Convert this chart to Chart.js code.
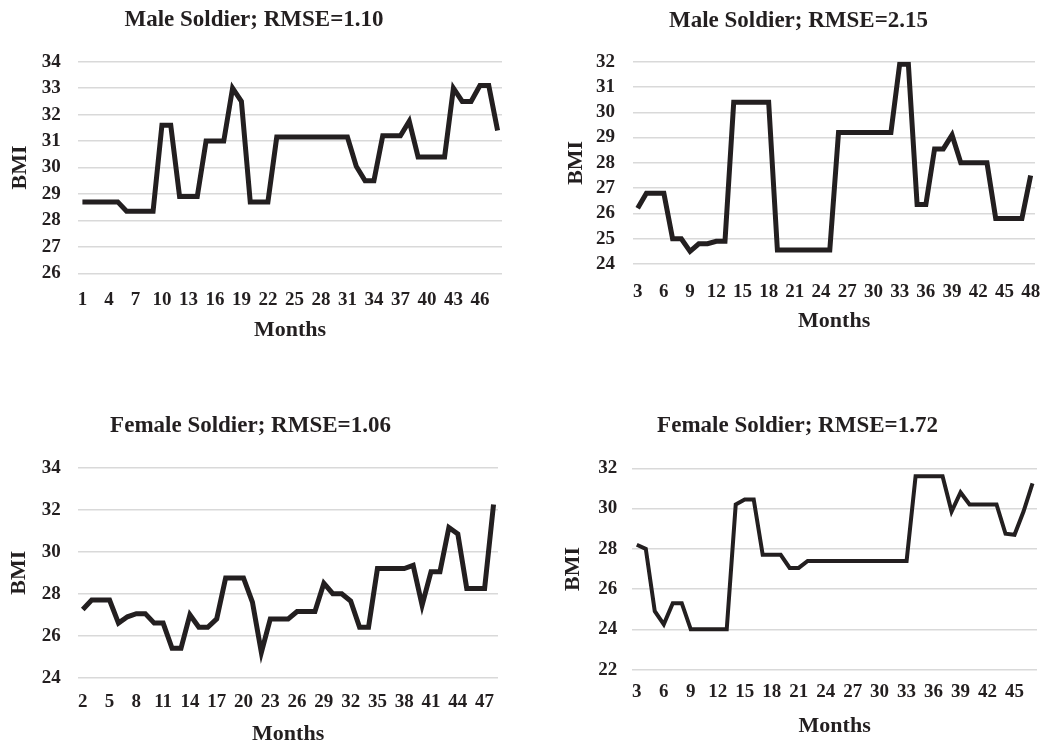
<!DOCTYPE html>
<html lang="en">
<head>
<meta charset="UTF-8">
<title>BMI by month - soldiers</title>
<script src="https://cdn.jsdelivr.net/npm/chart.js"></script>
<style>
    html, body {
        margin: 0;
        padding: 0;
        background: #ffffff;
        overflow: hidden;
    }
    body {
        position: relative;
        width: 1046px;
        height: 744px;
    }
    .panel {
        position: absolute;
    }
</style>
</head>
<body>
<div class="panel" style="left:6px; top:0px; width:506px; height:344px;"><canvas id="c1"></canvas></div>
<div class="panel" style="left:562px; top:0px; width:483px; height:335px;"><canvas id="c2"></canvas></div>
<div class="panel" style="left:3px; top:400px; width:505px; height:348px;"><canvas id="c3"></canvas></div>
<div class="panel" style="left:558px; top:400px; width:488px; height:340px;"><canvas id="c4"></canvas></div>

<script>
    // Male soldier, RMSE=1.10
    const months1 = [1, 2, 3, 4, 5, 6, 7, 8, 9, 10, 11, 12, 13, 14, 15, 16, 17, 18, 19, 20, 21, 22, 23, 24,
        25, 26, 27, 28, 29, 30, 31, 32, 33, 34, 35, 36, 37, 38, 39, 40, 41, 42, 43, 44, 45, 46, 47, 48];
    const bmi1 = [28.7, 28.7, 28.7, 28.7, 28.7, 28.35, 28.35, 28.35, 28.35, 31.6, 31.6, 28.9, 28.9, 28.9,
        31.0, 31.0, 31.0, 33.0, 32.5, 28.7, 28.7, 28.7, 31.15, 31.15, 31.15, 31.15, 31.15, 31.15, 31.15,
        31.15, 31.15, 30.05, 29.5, 29.5, 31.2, 31.2, 31.2, 31.75, 30.4, 30.4, 30.4, 30.4, 33.0, 32.5, 32.5,
        33.1, 33.1, 31.4];
    const xTicks1 = [1, 4, 7, 10, 13, 16, 19, 22, 25, 28, 31, 34, 37, 40, 43, 46];
    const yRange1 = [26, 34, 1];

    // Male soldier, RMSE=2.15
    const months2 = [3, 4, 5, 6, 7, 8, 9, 10, 11, 12, 13, 14, 15, 16, 17, 18, 19, 20, 21, 22, 23, 24, 25,
        26, 27, 28, 29, 30, 31, 32, 33, 34, 35, 36, 37, 38, 39, 40, 41, 42, 43, 44, 45, 46, 47, 48];
    const bmi2 = [26.2, 26.8, 26.8, 26.8, 25.0, 25.0, 24.5, 24.8, 24.8, 24.9, 24.9, 30.4, 30.4, 30.4, 30.4,
        30.4, 24.55, 24.55, 24.55, 24.55, 24.55, 24.55, 24.55, 29.2, 29.2, 29.2, 29.2, 29.2, 29.2, 29.2,
        31.9, 31.9, 26.35, 26.35, 28.55, 28.55, 29.1, 28.0, 28.0, 28.0, 28.0, 25.8, 25.8, 25.8, 25.8, 27.5];
    const xTicks2 = [3, 6, 9, 12, 15, 18, 21, 24, 27, 30, 33, 36, 39, 42, 45, 48];
    const yRange2 = [24, 32, 1];

    // Female soldier, RMSE=1.06
    const months3 = [2, 3, 4, 5, 6, 7, 8, 9, 10, 11, 12, 13, 14, 15, 16, 17, 18, 19, 20, 21, 22, 23, 24, 25,
        26, 27, 28, 29, 30, 31, 32, 33, 34, 35, 36, 37, 38, 39, 40, 41, 42, 43, 44, 45, 46, 47, 48];
    const bmi3 = [27.25, 27.7, 27.7, 27.7, 26.6, 26.9, 27.05, 27.05, 26.6, 26.6, 25.4, 25.4, 27.0, 26.4,
        26.4, 26.8, 28.75, 28.75, 28.75, 27.6, 25.2, 26.8, 26.8, 26.8, 27.15, 27.15, 27.15, 28.5, 28.0,
        28.0, 27.65, 26.4, 26.4, 29.2, 29.2, 29.2, 29.2, 29.35, 27.45, 29.05, 29.05, 31.15, 30.85, 28.25,
        28.25, 28.25, 32.25];
    const xTicks3 = [2, 5, 8, 11, 14, 17, 20, 23, 26, 29, 32, 35, 38, 41, 44, 47];
    const yRange3 = [24, 34, 2];

    // Female soldier, RMSE=1.72
    const months4 = [3, 4, 5, 6, 7, 8, 9, 10, 11, 12, 13, 14, 15, 16, 17, 18, 19, 20, 21, 22, 23, 24, 25,
        26, 27, 28, 29, 30, 31, 32, 33, 34, 35, 36, 37, 38, 39, 40, 41, 42, 43, 44, 45, 46, 47];
    const bmi4 = [28.2, 28.0, 24.9, 24.25, 25.3, 25.3, 24.0, 24.0, 24.0, 24.0, 24.0, 30.2, 30.45, 30.45,
        27.7, 27.7, 27.7, 27.05, 27.05, 27.4, 27.4, 27.4, 27.4, 27.4, 27.4, 27.4, 27.4, 27.4, 27.4, 27.4,
        27.4, 31.6, 31.6, 31.6, 31.6, 29.85, 30.8, 30.2, 30.2, 30.2, 30.2, 28.75, 28.7, 29.85, 31.25];
    const xTicks4 = [3, 6, 9, 12, 15, 18, 21, 24, 27, 30, 33, 36, 39, 42, 45];
    const yRange4 = [22, 32, 2];

    const ink = '#231f20';
    const serif = "'Liberation Serif', 'Times New Roman', serif";

    function drawPanel(canvasId, titleText, months, bmi, xTicks, yRange, box) {
        new Chart(document.getElementById(canvasId), {
            type: 'line',
            data: {
                labels: months,
                datasets: [{
                    data: bmi,
                    borderColor: ink,
                    borderWidth: box.line,
                    pointRadius: 0,
                    tension: 0,
                    fill: false
                }]
            },
            options: {
                responsive: true,
                maintainAspectRatio: false,
                animation: false,
                layout: { padding: { left: 0, right: box.padRight, top: 0, bottom: 0 } },
                plugins: {
                    legend: { display: false },
                    tooltip: { enabled: false },
                    title: {
                        display: true,
                        text: titleText,
                        color: ink,
                        font: { family: serif, size: 23, weight: 'bold' },
                        padding: { top: box.titleTop, bottom: box.titleBottom }
                    }
                },
                scales: {
                    x: {
                        offset: true,
                        grid: { display: false, drawTicks: false },
                        border: { display: false },
                        ticks: {
                            autoSkip: false,
                            maxRotation: 0,
                            minRotation: 0,
                            padding: box.xTickPad,
                            color: ink,
                            font: { family: serif, size: 19, weight: 'bold' },
                            callback: function (value, index) {
                                const m = months[index];
                                return xTicks.includes(m) ? String(m) : '';
                            }
                        },
                        title: {
                            display: true,
                            text: 'Months',
                            color: ink,
                            font: { family: serif, size: 22, weight: 'bold' },
                            padding: 0
                        },
                        afterFit: function (scale) {
                            scale.height = box.xHeight;
                            scale.paddingLeft = 0;
                            scale.paddingRight = 0;
                        }
                    },
                    y: {
                        min: yRange[0],
                        max: yRange[1],
                        ticks: {
                            stepSize: yRange[2],
                            autoSkip: false,
                            padding: box.yTickPad,
                            color: ink,
                            font: { family: serif, size: 19, weight: 'bold' }
                        },
                        grid: { color: '#d9d9d9', lineWidth: 1.5, drawTicks: false },
                        border: { display: false },
                        title: {
                            display: true,
                            text: 'BMI',
                            color: ink,
                            font: { family: serif, size: 22, weight: 'bold' },
                            padding: { top: box.bmiPad, bottom: 0 }
                        },
                        afterFit: function (scale) {
                            scale.width = box.yWidth;
                        }
                    }
                }
            }
        });
    }

    drawPanel('c1', 'Male Soldier; RMSE=1.10', months1, bmi1, xTicks1, yRange1,
        { padRight: 10, titleTop: 5.9, titleBottom: 28.2, xHeight: 70.7, xTickPad: 15.6, yWidth: 72, yTickPad: 17.3, bmiPad: 0.8, line: 5 });
    drawPanel('c2', 'Male Soldier; RMSE=2.15', months2, bmi2, xTicks2, yRange2,
        { padRight: 10, titleTop: 7.0, titleBottom: 27.1, xHeight: 71, xTickPad: 16.6, yWidth: 71.3, yTickPad: 18.3, bmiPad: 1.0, line: 5 });
    drawPanel('c3', 'Female Soldier; RMSE=1.06', months3, bmi3, xTicks3, yRange3,
        { padRight: 10, titleTop: 12.2, titleBottom: 27.9, xHeight: 70.3, xTickPad: 13.1, yWidth: 75.3, yTickPad: 17.6, bmiPad: 3.5, line: 5 });
    drawPanel('c4', 'Female Soldier; RMSE=1.72', months4, bmi4, xTicks4, yRange4,
        { padRight: 9, titleTop: 12.2, titleBottom: 28.5, xHeight: 70.4, xTickPad: 10.6, yWidth: 74.3, yTickPad: 15, bmiPad: 2.5, line: 4 });
</script>
</body>
</html>
